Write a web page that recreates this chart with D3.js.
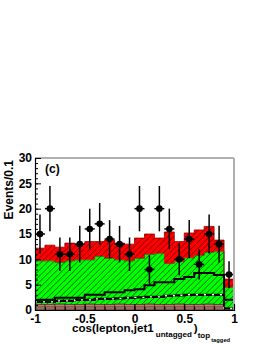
<!DOCTYPE html>
<html>
<head>
<meta charset="utf-8">
<script src="https://cdn.jsdelivr.net/npm/d3@7"></script>
<style>
  body { margin: 0; background: #fff; }
  svg text { font-family: "Liberation Sans", Arial, sans-serif; font-weight: bold; }
</style>
</head>
<body>
<svg width="266" height="344"></svg>
<script>
// bin low edges of cos(lepton, jet1_untagged)_top_tagged
const binLow = [-1, -0.9, -0.8, -0.7, -0.6, -0.5, -0.4, -0.3, -0.2, -0.1,
                0, 0.1, 0.2, 0.3, 0.4, 0.5, 0.6, 0.7, 0.8, 0.9];
const binWidth = 0.1;

// stacked backgrounds (bottom to top)
const multijet = [1.2, 1.2, 1.3, 1.2, 1.2, 1.3, 1.2, 1.2, 1.3, 1.2, 1.2, 1.3, 1.2, 1.2, 1.3, 1.2, 1.2, 1.3, 1.2, 0.5];
const wjets    = [8.5, 8.5, 8.1, 8.5, 8.7, 8.6, 9.4, 9.0, 8.6, 8.5, 9.0, 9.7, 10.0, 8.0, 8.3, 9.1, 9.6, 10.1, 10.4, 4.0];
const ttbar    = [2.5, 3.1, 3.0, 3.5, 3.1, 3.6, 2.9, 3.6, 3.3, 3.3, 4.0, 4.0, 3.0, 6.2, 3.9, 4.9, 5.0, 5.1, 2.2, 1.6];

// overlaid line histograms
const signal   = [2.0, 2.0, 2.4, 2.4, 2.4, 3.0, 3.0, 3.5, 3.5, 3.9, 4.1, 4.9, 5.5, 5.5, 6.1, 6.5, 7.3, 7.3, 6.9, 2.0];
const dashed   = [1.6, 1.6, 1.8, 1.8, 2.0, 2.0, 2.2, 2.2, 2.3, 2.4, 2.5, 2.6, 2.6, 2.8, 2.9, 3.0, 3.0, 3.0, 3.0, 0.3];

// data
const observed = [15, 20, 11, 11, 13, 16, 17, 14, 13, 11, 20, 8, 20, 16, 10, 14, 9, 15, 13, 7];

const xTicks = [-1, -0.5, 0, 0.5, 1];
const yTicks = [0, 5, 10, 15, 20, 25, 30];

const svg = d3.select('svg');
const x = d3.scaleLinear().domain([-1, 1]).range([35, 234]);
const y = d3.scaleLinear().domain([0, 30]).range([310, 158]);

// hatch patterns
const defs = svg.append('defs');
const hatch = (id, bg, fg, angle, gap) => {
  const p = defs.append('pattern')
    .attr('id', id)
    .attr('patternUnits', 'userSpaceOnUse')
    .attr('width', gap).attr('height', gap)
    .attr('patternTransform', `rotate(${angle})`);
  p.append('rect').attr('width', gap).attr('height', gap).attr('fill', bg);
  p.append('line').attr('x1', 0).attr('y1', 0).attr('x2', 0).attr('y2', gap)
    .attr('stroke', fg).attr('stroke-width', 1.6);
};
hatch('hGreen', '#00ff00', '#007a00', 45, 4.2);
hatch('hRed', '#ff0000', '#8a0000', 45, 4.2);
const pb = defs.append('pattern')
  .attr('id', 'hBrown').attr('patternUnits', 'userSpaceOnUse')
  .attr('width', 10).attr('height', 2.5);
pb.append('rect').attr('width', 10).attr('height', 2.5).attr('fill', '#7a4e3e');
pb.append('line').attr('x1', 0).attr('x2', 10).attr('y1', 0.6).attr('y2', 0.6)
  .attr('stroke', '#c9a595').attr('stroke-width', 0.8);

// stack
const rows = binLow.map((lo, i) => ({ lo, multijet: multijet[i], wjets: wjets[i], ttbar: ttbar[i] }));
const series = d3.stack().keys(['multijet', 'wjets', 'ttbar'])(rows);
const fills = { multijet: 'url(#hBrown)', wjets: 'url(#hGreen)', ttbar: 'url(#hRed)' };
const edges = { multijet: '#3a2018', wjets: '#006000', ttbar: '#900000' };

// expand each bin into its two edges for step drawing
const steps = (s) => s.flatMap((d, i) => [
  { x: binLow[i], y0: d[0], y1: d[1] },
  { x: binLow[i] + binWidth, y0: d[0], y1: d[1] }
]);

const area = d3.area().x(d => x(d.x)).y0(d => y(d.y0)).y1(d => y(d.y1));
const topLine = d3.line().x(d => x(d.x)).y(d => y(d.y1));

const plot = svg.append('g');
series.forEach(s => {
  const pts = steps(s);
  plot.append('path').attr('d', area(pts)).attr('fill', fills[s.key]);
  plot.append('path').attr('d', topLine(pts)).attr('fill', 'none')
    .attr('stroke', edges[s.key]).attr('stroke-width', 0.8);
});

// bin separators in the multijet band
plot.selectAll('.sep').data(binLow.slice(1)).enter().append('line')
  .attr('x1', d => x(d)).attr('x2', d => x(d))
  .attr('y1', y(0)).attr('y2', (d, i) => y(Math.min(multijet[i], multijet[i + 1])))
  .attr('stroke', '#3a2018').attr('stroke-width', 0.8);

const lineSteps = (vals) => vals.flatMap((v, i) => [
  { x: binLow[i], y1: v }, { x: binLow[i] + binWidth, y1: v }
]);

plot.append('path').attr('d', topLine(lineSteps(dashed)))
  .attr('fill', 'none').attr('stroke', '#000').attr('stroke-width', 2.2);
plot.append('path').attr('d', topLine(lineSteps(dashed)))
  .attr('fill', 'none').attr('stroke', '#fff').attr('stroke-width', 1.4)
  .attr('stroke-dasharray', '2,6');
plot.append('path').attr('d', topLine(lineSteps(signal)))
  .attr('fill', 'none').attr('stroke', '#000').attr('stroke-width', 2);

// data points
const pts = svg.append('g');
observed.forEach((n, i) => {
  const cx = x(binLow[i] + binWidth / 2);
  const err = Math.sqrt(n);
  pts.append('line').attr('x1', cx).attr('x2', cx)
    .attr('y1', y(n - err)).attr('y2', y(n + err))
    .attr('stroke', '#000').attr('stroke-width', 1.5);
  pts.append('line').attr('x1', x(binLow[i])).attr('x2', x(binLow[i] + binWidth))
    .attr('y1', y(n)).attr('y2', y(n))
    .attr('stroke', '#000').attr('stroke-width', 1.5);
  pts.append('circle').attr('cx', cx).attr('cy', y(n)).attr('r', 3.3).attr('fill', '#000');
});

// frame
svg.append('line').attr('x1', 35).attr('x2', 234).attr('y1', 158).attr('y2', 158)
  .attr('stroke', '#b0b0b0').attr('stroke-width', 2);
svg.append('line').attr('x1', 234).attr('x2', 234).attr('y1', 158).attr('y2', 310)
  .attr('stroke', '#b0b0b0').attr('stroke-width', 2);

// axes
const yAxis = svg.append('g').attr('transform', 'translate(35,0)')
  .call(d3.axisLeft(y).tickValues(yTicks).tickSize(-6).tickPadding(3));
svg.append('g').attr('transform', 'translate(35,0)')
  .call(d3.axisLeft(y).tickValues(d3.range(0, 31, 1)).tickSize(-3).tickFormat(''))
  .select('.domain').remove();
const xAxis = svg.append('g').attr('transform', 'translate(0,310)')
  .call(d3.axisBottom(x).tickValues(xTicks).tickSize(-6).tickPadding(4.5)
    .tickFormat(d => String(d)));
svg.append('g').attr('transform', 'translate(0,310)')
  .call(d3.axisBottom(x).tickValues(d3.range(-10, 11).map(v => v / 10)).tickSize(-3).tickFormat(''))
  .select('.domain').remove();

svg.selectAll('.domain').attr('stroke', '#000').attr('stroke-width', 1.2);
svg.selectAll('.tick line').attr('stroke', '#000');
[yAxis, xAxis].forEach(a => a.selectAll('text').attr('font-size', 12).attr('fill', '#000'));

// titles
svg.append('text')
  .attr('transform', 'translate(13,160) rotate(-90)')
  .attr('text-anchor', 'end').attr('font-size', 12)
  .text('Events/0.1');

const xt = svg.append('text').attr('x', 72).attr('y', 332).attr('font-size', 11.6);
xt.append('tspan').text('cos(lepton,jet1');
xt.append('tspan').attr('font-size', 8).attr('dy', 5).attr('dx', 2).text('untagged');
xt.append('tspan').attr('font-size', 11.6).attr('dy', -5).attr('dx', 2).text(')');
xt.append('tspan').attr('font-size', 8).attr('dy', 6).text('top');
xt.append('tspan').attr('font-size', 5.8).attr('dy', 4).attr('dx', 1).text('tagged');

svg.append('text').attr('x', 45).attr('y', 173).attr('font-size', 12).text('(c)');
</script>
</body>
</html>
